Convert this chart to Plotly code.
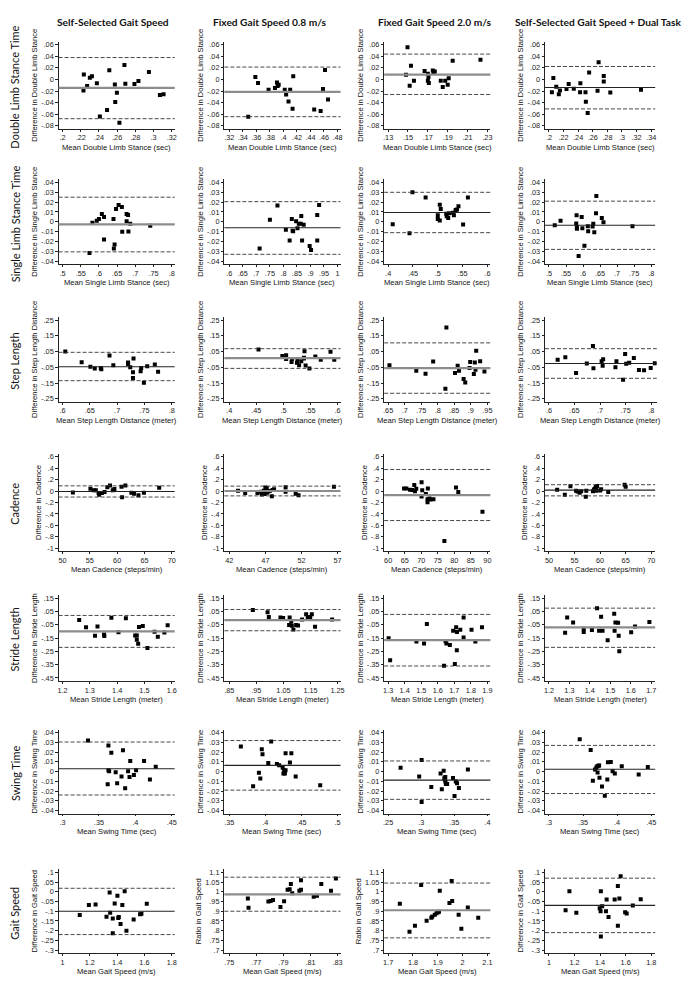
import plotly.graph_objects as go

W, H = 684, 991

col_titles = ["Self-Selected Gait Speed", "Fixed Gait Speed 0.8 m/s",
              "Fixed Gait Speed 2.0 m/s", "Self-Selected Gait Speed + Dual Task"]
row_titles = ["Double Limb Stance Time", "Single Limb Stance Time", "Step Length",
              "Cadence", "Stride Length", "Swing Time", "Gait Speed"]
x_titles = ["Mean Double Limb Stance (sec)", "Mean Single Limb Stance (sec)",
            "Mean Step Length Distance (meter)", "Mean Cadence (steps/min)",
            "Mean Stride Length (meter)", "Mean Swing Time (sec)", "Mean Gait Speed (m/s)"]
y_titles = ["Difference in Double Limb Stance", "Difference in Single Limb Stance",
            "Difference in Step Length Distance", "Difference in Cadence",
            "Difference in Stride Length", "Difference in Swing Time", "Difference in Gait Speed"]
y_titles_ratio = "Ratio in Gait Speed"

# ---------------- Row 1: Double limb stance ----------------
r1c1_x = [.2234, .223, .227, .230, .2323, .2377, .241, .2489, .2514, .2575, .2579, .2597, .2625, .268, .269, .279, .2834, .2949, .307, .311]
r1c1_y = [.0087, -.0193, -.0115, .0028, .0055, -.0064, -.064, -.053, .016, -.0087, -.039, -.023, -.075, .025, -.0074, -.0078, -.0028, .0129, -.0267, -.0257]
r1c2_x = [.348, .3585, .3625, .378, .3875, .3905, .3915, .393, .402, .404, .4075, .410, .4135, .4145, .4455, .455, .4585, .4615, .466]
r1c2_y = [-.0645, .0044, -.0062, -.0177, -.0146, -.0053, -.0115, -.0093, -.018, -.026, -.038, -.018, -.0508, .0057, -.052, -.0547, -.0163, .0163, -.0349]
r1c3_x = [.148, .1495, .1517, .153, .156, .1667, .170, .1706, .170, .171, .175, .1757, .177, .183, .185, .1875, .190, .191, .195, .223]
r1c3_y = [.0084, .056, -.011, .024, -.002, .0147, .010, .0044, -.002, -.006, .0155, .012, .0138, -.002, -.013, -.002, -.009, .002, .0324, .034]
r1c4_x = [.204, .206, .210, .2135, .215, .224, .227, .234, .2426, .243, .250, .2505, .253, .255, .2665, .268, .275, .275, .284, .326]
r1c4_y = [-.022, .0026, -.0124, -.0256, -.019, -.0163, -.008, -.016, -.022, -.0066, -.022, -.0384, -.058, .0119, -.0194, .030, .006, -.0035, -.0225, -.0177]

# ---------------- Row 2: Single limb stance ----------------
r2c1_x = [.574, .582, .594, .600, .608, .614, .614, .640, .641, .643, .647, .654, .663, .664, .676, .680, .676, .681, .686, .741]
r2c1_y = [-.0316, -.001, .001, .003, .008, .005, -.018, .003, -.027, -.023, .013, .017, .015, -.010, .008, .007, .0005, -.0098, -.002, -.004]
r2c2_x = [.712, .750, .778, .831, .809, .834, .836, .847, .852, .857, .866, .864, .875, .823, .869, .897, .902, .925, .925, .932]
r2c2_y = [-.027, .002, .0165, .003, -.008, -.009, -.0096, .0005, -.0066, -.002, .006, -.002, -.003, -.019, -.019, -.0245, -.0286, .007, -.019, .017]
r2c3_x = [.4092, .443, .449, .4755, .500, .500, .504, .506, .504, .517, .518, .521, .5227, .5307, .5325, .536, .5387, .5417, .551, .5607]
r2c3_y = [-.0025, -.0116, .030, .0247, .0068, .003, .0174, .0131, .0013, .0083, .0056, .0038, .0088, .0091, .0066, .0119, .0126, .0159, -.0028, .0247]
r2c4_x = [.517, .534, .580, .581, .582, .582, .587, .596, .598, .604, .614, .615, .628, .630, .633, .638, .639, .655, .660, .745]
r2c4_y = [-.0035, .001, -.0018, .0068, -.0053, -.0071, -.0346, .005, -.0066, -.0242, -.0045, -.0096, -.0048, -.002, -.0106, .0086, .0263, .004, -.0005, -.0045]

# ---------------- Row 3: Step length ----------------
r3c1_x = [.605, .635, .651, .659, .670, .671, .686, .693, .720, .720, .724, .730, .729, .729, .744, .743, .749, .755, .769, .775]
r3c1_y = [.051, -.0175, -.046, -.057, -.055, -.063, .025, -.037, -.019, -.029, -.049, .006, -.081, -.118, -.054, -.075, -.148, -.044, -.033, -.078]
r3c2_x = [.454, .498, .505, .505, .515, .516, .525, .526, .529, .533, .538, .538, .539, .541, .548, .559, .569, .587, .594]
r3c2_y = [.063, .021, .027, .003, -.017, .002, -.021, -.002, -.037, -.011, .005, .01, .052, -.038, -.057, .019, -.002, .048, -.002]
r3c3_x = [.654, .735, .763, .786, .826, .823, .852, .860, .864, .878, .883, .896, .898, .909, .912, .914, .916, .928, .941]
r3c3_y = [-.0365, -.072, -.091, -.014, .202, -.186, -.086, -.041, -.072, -.125, -.146, -.054, -.016, -.093, -.019, -.065, .055, -.011, -.077]
r3c4_x = [.617, .632, .653, .674, .687, .686, .703, .706, .705, .732, .730, .749, .751, .757, .766, .745, .776, .786, .799, .807]
r3c4_y = [-.0016, .0145, -.0855, -.026, -.056, .0855, -.011, .0016, -.040, -.011, -.050, .034, -.027, -.021, .0097, -.129, -.068, -.069, -.055, -.024]

# ---------------- Row 4: Cadence ----------------
r4c1_x = [51.9, 55.1, 55.7, 56.1, 56.6, 56.7, 57.2, 57.7, 58.2, 58.7, 59.2, 59.5, 60.9, 60.8, 61.5, 62.6, 63.1, 63.9, 64.9, 67.7]
r4c1_y = [-.024, .04, .012, .012, -.036, -.067, -.036, -.018, .067, .097, .012, .036, -.109, .073, .097, -.03, -.048, -.073, -.03, .055]
r4c2_x = [43.2, 44.2, 45.9, 46.4, 46.5, 46.8, 47.0, 47.2, 47.2, 47.9, 48.0, 49.8, 49.8, 51.2, 51.6, 56.5, 47.3, 47.6, 46.9, 48.2]
r4c2_y = [.006, -.036, -.036, -.012, -.06, .006, .06, .048, -.03, -.09, .018, .066, -.012, -.048, -.072, .073, -.02, .0, -.05, .03]
r4c3_x = [64.8, 65.5, 66.6, 67.2, 67.9, 68.1, 68.5, 70.1, 70.3, 70.1, 71.4, 72.0, 71.9, 71.9, 72.5, 72.8, 73.7, 80.5, 81.2, 88.5, 77.0]
r4c3_y = [.046, .046, .024, .019, .105, -.002, .041, .153, .014, -.094, -.051, .046, -.196, -.142, -.132, -.148, -.142, .062, -.019, -.36, -.87]
r4c4_x = [51.6, 53.1, 54.2, 55.3, 55.6, 56.0, 56.3, 57.2, 57.3, 58.6, 58.8, 59.0, 59.2, 59.4, 59.2, 60.0, 60.2, 61.6, 64.8, 65.0]
r4c4_y = [.02, -.063, .083, .005, -.009, -.029, -.005, -.102, .005, -.005, .025, .044, .069, .088, .005, .01, .03, -.019, .108, .074]

# ---------------- Row 5: Stride length ----------------
r5c1_x = [1.261, 1.286, 1.319, 1.328, 1.352, 1.353, 1.379, 1.405, 1.432, 1.466, 1.472, 1.472, 1.477, 1.480, 1.494, 1.511, 1.537, 1.549, 1.573, 1.585]
r5c1_y = [-.015, -.069, -.133, -.063, -.124, -.135, .002, -.107, .0, -.130, -.131, -.163, -.192, -.067, -.059, -.224, -.102, -.141, -.109, -.054]
r5c2_x = [.937, .9915, .996, 1.039, 1.049, 1.073, 1.071, 1.079, 1.081, 1.087, 1.097, 1.104, 1.119, 1.134, 1.140, 1.149, 1.155, 1.167, 1.230]
r5c2_y = [.061, .045, .008, .005, .0006, .005, -.052, -.027, -.058, -.085, -.052, -.056, -.011, .03, .006, .008, .03, -.064, -.011]
r5c3_x = [1.303, 1.312, 1.471, 1.517, 1.534, 1.647, 1.652, 1.673, 1.638, 1.693, 1.703, 1.715, 1.711, 1.716, 1.736, 1.756, 1.756, 1.804, 1.827, 1.867]
r5c3_y = [-.152, -.316, -.175, -.190, -.044, -.173, -.190, -.203, -.359, -.095, -.346, -.242, -.069, -.105, -.088, .005, -.146, -.088, -.175, -.069]
r5c4_x = [1.279, 1.289, 1.318, 1.370, 1.370, 1.410, 1.435, 1.445, 1.462, 1.455, 1.487, 1.519, 1.521, 1.525, 1.538, 1.541, 1.544, 1.602, 1.621, 1.691]
r5c4_y = [-.110, .004, -.033, -.079, -.104, -.090, .075, -.094, -.094, .010, -.167, .033, -.094, -.033, -.035, -.133, -.250, -.106, -.063, -.029]

# ---------------- Row 6: Swing time ----------------
r6c1_x = [.335, .363, .367, .363, .364, .373, .362, .375, .383, .381, .393, .390, .392, .398, .401, .386, .412, .420, .428]
r6c1_y = [.032, .027, .0195, .0015, .0005, -.0005, -.013, -.012, .022, -.005, .011, .0005, -.0055, -.0035, .0015, -.017, .011, -.008, .005]
r6c2_x = [.366, .383, .391, .393, .395, .396, .404, .408, .416, .419, .424, .425, .427, .426, .428, .428, .434, .436, .442, .476]
r6c2_y = [.026, -.015, -.001, -.007, .023, .018, .009, .031, .008, .0065, .004, -.002, -.002, .0015, .0015, .019, .0095, .019, -.005, -.014]
r6c3_x = [.2688, .2969, .3006, .3006, .3152, .3292, .3311, .3339, .3349, .3358, .3363, .3367, .3372, .3391, .348, .3522, .3541, .3569, .3503, .3705]
r6c3_y = [.0041, -.0049, .012, -.0313, -.0159, -.0018, -.0182, .001, -.0067, -.0082, -.0056, -.0103, -.0128, -.0126, -.0064, -.01, -.0118, -.0167, -.0251, .0021]
r6c4_x = [.3451, .3612, .3644, .3676, .3695, .3709, .3727, .3736, .3713, .3741, .3856, .3778, .3819, .3865, .3907, .3934, .3966, .4068, .4316, .4450]
r6c4_y = [.0334, .0223, -.0094, .0023, .0043, .0056, .0061, .0063, -.0008, -.0063, -.0081, -.0152, -.0248, .0096, .0099, .0005, -.002, .0056, -.003, .0048]

# ---------------- Row 7: Gait speed ----------------
r7c1_x = [1.126, 1.193, 1.242, 1.345, 1.382, 1.402, 1.455, 1.438, 1.349, 1.322, 1.368, 1.412, 1.408, 1.425, 1.468, 1.368, 1.521, 1.568, 1.578, 1.617]
r7c1_y = [-.12, -.068, -.066, -.003, -.06, -.02, .003, -.068, -.108, -.128, -.137, -.13, -.135, -.166, -.2, -.213, -.143, -.115, -.113, -.061]
r7c2_x = [.7637, .7642, .7789, .7806, .7823, .7878, .7905, .7931, .7946, .7955, .7965, .8018, .803, .803, .8124, .8148, .818, .8252, .8288]
r7c2_y = [.965, .918, .95, .953, .958, .922, .951, 1.01, 1.013, 1.04, .993, 1.006, 1.01, 1.06, .975, .98, 1.04, 1.005, 1.068]
r7c3_x = [1.747, 1.786, 1.808, 1.833, 1.855, 1.874, 1.878, 1.888, 1.895, 1.901, 1.905, 1.908, 1.947, 1.956, 1.958, 1.984, 1.995, 2.021, 2.063]
r7c3_y = [.939, .795, .825, 1.035, .851, .867, .873, .882, .889, .895, .897, 1.005, .942, 1.056, .952, .882, .81, .919, .867]
r7c4_x = [1.130, 1.160, 1.214, 1.397, 1.406, 1.404, 1.416, 1.446, 1.451, 1.466, 1.406, 1.514, 1.539, 1.551, 1.539, 1.561, 1.596, 1.608, 1.656, 1.718]
r7c4_y = [-.095, .003, -.108, -.085, .003, -.1, -.075, -.1, -.04, -.13, -.23, -.04, .03, -.035, -.175, .08, -.105, -.112, -.07, -.038]

# mean difference, lower and upper limits of agreement [row][col]
mean_vals = [[-.0145, -.0215, .0085, -.014], [-.0025, -.006, .0095, -.0035], [-.047, .008, -.055, -.026],
             [-.008, .0, -.07, .015], [-.10, -.015, -.165, -.07], [.003, .0065, -.0087, .0025],
             [-.10, .987, .905, -.07]]
lower_vals = [[-.068, -.0645, -.026, -.051], [-.0305, -.033, -.011, -.028], [-.135, -.057, -.215, -.12],
              [-.105, -.085, -.515, -.085], [-.22, -.095, -.36, -.22], [-.024, -.019, -.0285, -.0225],
              [-.22, .90, .763, -.21]]
upper_vals = [[.038, .0215, .044, .0225], [.025, .0205, .030, .021], [.045, .068, .105, .068],
              [.09, .085, .375, .11], [.02, .065, .028, .075], [.0305, .032, .011, .027],
              [.018, 1.075, 1.045, .07]]

# axis ticks
y_ticks = [
    [[-.08, -.06, -.04, -.02, 0, .02, .04, .06]] * 4,
    [[-.04, -.03, -.02, -.01, 0, .01, .02, .03, .04]] * 4,
    [[-.25, -.15, -.05, .05, .15, .25]] * 4,
    [[-1, -.8, -.6, -.4, -.2, 0, .2, .4, .6]] * 4,
    [[-.45, -.35, -.25, -.15, -.05, .05, .15]] * 4,
    [[-.04, -.03, -.02, -.01, 0, .01, .02, .03, .04]] * 4,
    [[-.3, -.25, -.2, -.15, -.1, -.05, 0, .05, .1],
     [.7, .75, .8, .85, .9, .95, 1, 1.05, 1.1],
     [.7, .75, .8, .85, .9, .95, 1, 1.05, 1.1],
     [-.3, -.25, -.2, -.15, -.1, -.05, 0, .05, .1]],
]
x_ticks = [
    [[.2, .22, .24, .26, .28, .3, .32], [.32, .34, .36, .38, .4, .42, .44, .46, .48],
     [.13, .15, .17, .19, .21, .23], [.2, .22, .24, .26, .28, .3, .32, .34]],
    [[.5, .55, .6, .65, .7, .75, .8], [.6, .65, .7, .75, .8, .85, .9, .95, 1],
     [.4, .45, .5, .55, .6], [.5, .55, .6, .65, .7, .75, .8]],
    [[.6, .65, .7, .75, .8], [.4, .45, .5, .55, .6],
     [.65, .7, .75, .8, .85, .9, .95], [.6, .65, .7, .75, .8]],
    [[50, 55, 60, 65, 70], [42, 47, 52, 57], [60, 65, 70, 75, 80, 85, 90], [50, 55, 60, 65, 70]],
    [[1.2, 1.3, 1.4, 1.5, 1.6], [.85, .95, 1.05, 1.15, 1.25],
     [1.3, 1.4, 1.5, 1.6, 1.7, 1.8, 1.9], [1.2, 1.3, 1.4, 1.5, 1.6, 1.7]],
    [[.3, .35, .4, .45], [.35, .4, .45, .5], [.25, .3, .35, .4], [.3, .35, .4, .45]],
    [[1, 1.2, 1.4, 1.6, 1.8], [.75, .77, .79, .81, .83], [1.7, 1.8, 1.9, 2, 2.1], [1, 1.2, 1.4, 1.6, 1.8]],
]
# mean line drawn gray/thick (True) or dark/thin (False)
mean_gray = [[True, True, True, False], [True, False, False, False], [False, True, True, False],
             [False, True, True, False], [True, True, True, True], [False, False, False, False],
             [False, True, True, False]]

data_x = [[r1c1_x, r1c2_x, r1c3_x, r1c4_x], [r2c1_x, r2c2_x, r2c3_x, r2c4_x],
          [r3c1_x, r3c2_x, r3c3_x, r3c4_x], [r4c1_x, r4c2_x, r4c3_x, r4c4_x],
          [r5c1_x, r5c2_x, r5c3_x, r5c4_x], [r6c1_x, r6c2_x, r6c3_x, r6c4_x],
          [r7c1_x, r7c2_x, r7c3_x, r7c4_x]]
data_y = [[r1c1_y, r1c2_y, r1c3_y, r1c4_y], [r2c1_y, r2c2_y, r2c3_y, r2c4_y],
          [r3c1_y, r3c2_y, r3c3_y, r3c4_y], [r4c1_y, r4c2_y, r4c3_y, r4c4_y],
          [r5c1_y, r5c2_y, r5c3_y, r5c4_y], [r6c1_y, r6c2_y, r6c3_y, r6c4_y],
          [r7c1_y, r7c2_y, r7c3_y, r7c4_y]]


def stata_fmt(v):
    s = f"{v:.4f}".rstrip("0").rstrip(".")
    if s in ("-0", ""):
        s = "0"
    if s.startswith("0."):
        s = s[1:]
    elif s.startswith("-0."):
        s = "-" + s[2:]
    return s


# ---------------- layout geometry (pixels) ----------------
# per column: (axis line x, first tick x, last tick x, right end x)
col_geom = [(58, 62, 172, 175), (225, 230, 339, 342), (386, 390, 490, 493), (548, 552, 655, 659)]
# per row: (top tick y, x-axis line y)
row_geom = [(44, 128), (182, 264), (320, 402), (457, 552), (599, 682), (734, 815), (874, 955)]
col_title_px = [113, 271, 437, 601]
TICKFONT = dict(family="Liberation Sans, Arial, sans-serif", size=7.3, color="#222")
TITLEFONT = dict(family="Liberation Sans, Arial, sans-serif", size=7.6, color="#111")

fig = go.Figure()
layout = dict(width=W, height=H, margin=dict(l=0, r=0, t=0, b=0),
              paper_bgcolor="white", plot_bgcolor="white", showlegend=False)
shapes = []
annotations = []

for r in range(7):
    for c in range(4):
        n = r * 4 + 1 + c
        xs, ys = data_x[r][c], data_y[r][c]
        xt, yt = x_ticks[r][c], y_ticks[r][c]
        ax_x, t0_x, t1_x, right_x = col_geom[c]
        top_y, ax_y = row_geom[r]
        # x scale from tick positions
        xppu = (t1_x - t0_x) / (max(xt) - min(xt))
        xr0 = min(min(xt) - (t0_x - ax_x) / xppu, min(xs) - 2 / xppu)
        xr1 = max(max(xt) + (right_x - t1_x) / xppu, max(xs) + 2 / xppu)
        # y scale: bottom tick 3px above x axis, top tick 3px below top
        bot_y = ax_y - 3
        yppu = (bot_y - top_y) / (max(yt) - min(yt))
        yr0 = min(yt) - 3 / yppu
        yr1 = max(yt) + 3 / yppu
        xa = "xaxis" if n == 1 else f"xaxis{n}"
        ya = "yaxis" if n == 1 else f"yaxis{n}"
        xid = "x" if n == 1 else f"x{n}"
        yid = "y" if n == 1 else f"y{n}"
        dom_x0 = ax_x
        dom_x1 = ax_x + (xr1 - xr0) * xppu
        layout[xa] = dict(domain=[dom_x0 / W, min(dom_x1, W - 2) / W], anchor=yid,
                          range=[xr0, xr1],
                          tickmode="array", tickvals=xt, ticktext=[stata_fmt(v) for v in xt],
                          showline=True, linecolor="#222", linewidth=0.8, mirror=False,
                          ticks="outside", ticklen=2, tickwidth=0.8, tickcolor="#222",
                          showgrid=False, zeroline=False, tickfont=TICKFONT)
        ytitle = y_titles_ratio if (r == 6 and c in (1, 2)) else y_titles[r]
        layout[ya] = dict(domain=[1 - ax_y / H, 1 - (top_y - 3) / H], anchor=xid,
                          range=[yr0, yr1],
                          tickmode="array", tickvals=yt, ticktext=[stata_fmt(v) for v in yt],
                          showline=True, linecolor="#222", linewidth=0.8,
                          ticks="outside", ticklen=2.5, tickwidth=0.8, tickcolor="#222",
                          showgrid=False, zeroline=False, tickfont=TICKFONT, tickangle=0,
                          title=dict(text=ytitle, font=TITLEFONT, standoff=2))
        # x axis title as annotation under the tick labels
        annotations.append(dict(text=x_titles[r], xref=f"{xid} domain", yref="paper",
                                x=0.5, y=1 - (ax_y + 18.5) / H, showarrow=False,
                                xanchor="center", yanchor="middle", font=TITLEFONT))
        # limits of agreement (dashed) and mean difference (solid)
        for v in (lower_vals[r][c], upper_vals[r][c]):
            shapes.append(dict(type="line", xref=f"{xid} domain", yref=yid, x0=0, x1=1, y0=v, y1=v,
                               line=dict(color="#333", width=0.9, dash="4px,2px")))
        if mean_gray[r][c]:
            mline = dict(color="#8c8c8c", width=2.2)
        else:
            mline = dict(color="#222", width=1.1)
        shapes.append(dict(type="line", xref=f"{xid} domain", yref=yid, x0=0, x1=1,
                           y0=mean_vals[r][c], y1=mean_vals[r][c], line=mline))
        fig.add_trace(go.Scatter(x=xs, y=ys, mode="markers", xaxis=xid, yaxis=yid,
                                 marker=dict(symbol="square", size=4, color="black",
                                             line=dict(width=0)),
                                 hoverinfo="skip"))

for c in range(4):
    annotations.append(dict(text=col_titles[c], xref="paper", yref="paper",
                            x=col_title_px[c] / W, y=1 - 21 / H, showarrow=False,
                            xanchor="center", yanchor="middle",
                            font=dict(family="Lato, sans-serif", size=10.2, color="#111",
                                      weight="bold")))
for r in range(7):
    top_y, ax_y = row_geom[r]
    yc = (top_y + ax_y) / 2
    annotations.append(dict(text=row_titles[r], xref="paper", yref="paper",
                            x=14 / W, y=1 - yc / H, showarrow=False, textangle=-90,
                            xanchor="center", yanchor="middle",
                            font=dict(family="Lato, sans-serif", size=11, color="#111")))

layout["shapes"] = shapes
layout["annotations"] = annotations
fig.update_layout(**layout)
fig.write_html("out.html", config={"displayModeBar": False},
               post_script="document.body.style.margin='0px';document.body.style.padding='0px';")
